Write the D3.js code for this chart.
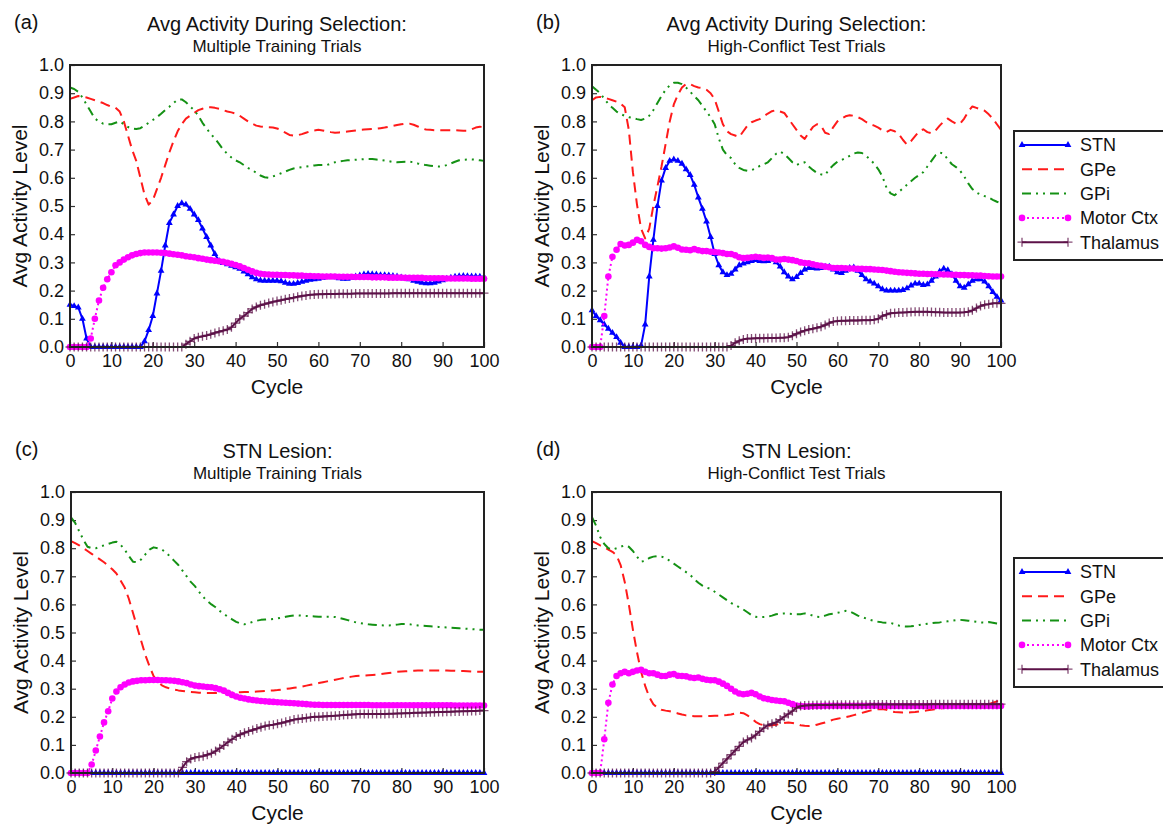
<!DOCTYPE html>
<html>
<head>
<meta charset="utf-8">
<script src="https://cdn.jsdelivr.net/npm/d3@7"></script>
<style>
  html, body { margin: 0; padding: 0; background: #fff; }
  svg { display: block; font-family: "Liberation Sans", Arial, Helvetica, sans-serif; }
</style>
</head>
<body>
<div id="chart"></div>
<script>
// ── Data ───────────────────────────────────────────────────
const cycles = d3.range(0, 101);
const xTicks = [0, 10, 20, 30, 40, 50, 60, 70, 80, 90, 100];
const yTicks = [0, 0.1, 0.2, 0.3, 0.4, 0.5, 0.6, 0.7, 0.8, 0.9, 1.0];
const seriesNames = ['STN', 'GPe', 'GPi', 'Motor Ctx', 'Thalamus'];
const panelLabels = ['(a)', '(b)', '(c)', '(d)'];
const panelTitles = ['Avg Activity During Selection:', 'Avg Activity During Selection:', 'STN Lesion:', 'STN Lesion:'];
const panelSubtitles = ['Multiple Training Trials', 'High-Conflict Test Trials', 'Multiple Training Trials', 'High-Conflict Test Trials'];

// (a) intact, multiple training trials
const aSTN = [
  0.15, 0.145, 0.14, 0.10, 0.03, 0, 0, 0, 0, 0,
  0, 0, 0, 0, 0, 0, 0, 0, 0.02, 0.06,
  0.11, 0.19, 0.27, 0.36, 0.44, 0.47, 0.50, 0.51, 0.505, 0.49,
  0.47, 0.45, 0.42, 0.39, 0.36, 0.33, 0.305, 0.298, 0.293, 0.288,
  0.283, 0.277, 0.268, 0.258, 0.247, 0.24, 0.236, 0.235, 0.235, 0.235,
  0.235, 0.233, 0.228, 0.224, 0.224, 0.227, 0.231, 0.235, 0.238, 0.24,
  0.242, 0.245, 0.247, 0.248, 0.247, 0.244, 0.242, 0.242, 0.245, 0.25,
  0.254, 0.257, 0.259, 0.258, 0.257, 0.255, 0.255, 0.254, 0.252, 0.25,
  0.247, 0.244, 0.24, 0.235, 0.231, 0.228, 0.226, 0.226, 0.228, 0.232,
  0.237, 0.242, 0.246, 0.249, 0.251, 0.252, 0.251, 0.25, 0.25, 0.249,
  0.248];
const aGPe = [
  0.88, 0.885, 0.89, 0.888, 0.885, 0.88, 0.875, 0.87, 0.865, 0.858,
  0.852, 0.848, 0.835, 0.80, 0.75, 0.70, 0.66, 0.60, 0.54, 0.505,
  0.52, 0.56, 0.60, 0.645, 0.69, 0.73, 0.765, 0.79, 0.81, 0.82,
  0.83, 0.84, 0.845, 0.85, 0.85, 0.848, 0.845, 0.84, 0.835, 0.832,
  0.828, 0.82, 0.81, 0.80, 0.792, 0.785, 0.782, 0.78, 0.779, 0.778,
  0.775, 0.77, 0.76, 0.752, 0.75, 0.751, 0.755, 0.76, 0.765, 0.768,
  0.77, 0.768, 0.765, 0.762, 0.76, 0.761, 0.762, 0.764, 0.766, 0.768,
  0.77, 0.771, 0.772, 0.773, 0.774, 0.776, 0.778, 0.781, 0.784, 0.787,
  0.79, 0.792, 0.792, 0.788, 0.782, 0.775, 0.771, 0.77, 0.769, 0.769,
  0.769, 0.769, 0.769, 0.769, 0.768, 0.767, 0.767, 0.772, 0.778, 0.781,
  0.78];
const aGPi = [
  0.92, 0.915, 0.905, 0.885, 0.86, 0.835, 0.81, 0.80, 0.792, 0.79,
  0.79, 0.795, 0.80, 0.79, 0.78, 0.775, 0.773, 0.776, 0.785, 0.795,
  0.805, 0.815, 0.827, 0.84, 0.852, 0.865, 0.877, 0.878, 0.868, 0.853,
  0.84, 0.82, 0.795, 0.775, 0.755, 0.74, 0.72, 0.70, 0.685, 0.672,
  0.662, 0.655, 0.645, 0.635, 0.627, 0.618, 0.608, 0.602, 0.60, 0.605,
  0.61, 0.616, 0.622, 0.628, 0.633, 0.636, 0.638, 0.64, 0.642, 0.644,
  0.645, 0.645, 0.645, 0.65, 0.655, 0.658, 0.66, 0.662, 0.663, 0.664,
  0.665, 0.666, 0.667, 0.667, 0.665, 0.663, 0.661, 0.659, 0.656, 0.655,
  0.656, 0.657, 0.657, 0.655, 0.651, 0.648, 0.645, 0.643, 0.641, 0.64,
  0.641, 0.645, 0.651, 0.657, 0.662, 0.664, 0.665, 0.665, 0.664, 0.662,
  0.66];
const aMotor = [
  0, 0, 0, 0, 0, 0.03, 0.10, 0.165, 0.21, 0.24,
  0.265, 0.29, 0.30, 0.31, 0.318, 0.325, 0.33, 0.333, 0.335, 0.335,
  0.335, 0.335, 0.334, 0.333, 0.331, 0.329, 0.327, 0.325, 0.322, 0.32,
  0.318, 0.315, 0.313, 0.31, 0.308, 0.306, 0.304, 0.302, 0.299, 0.295,
  0.291, 0.286, 0.28, 0.274, 0.268, 0.263, 0.26, 0.258, 0.257, 0.256,
  0.256, 0.255, 0.255, 0.254, 0.254, 0.253, 0.253, 0.252, 0.252, 0.251,
  0.251, 0.25, 0.25, 0.25, 0.25, 0.249, 0.249, 0.249, 0.249, 0.248,
  0.248, 0.248, 0.248, 0.247, 0.247, 0.247, 0.247, 0.246, 0.246, 0.246,
  0.246, 0.245, 0.245, 0.245, 0.245, 0.245, 0.244, 0.244, 0.244, 0.244,
  0.244, 0.243, 0.243, 0.243, 0.243, 0.243, 0.243, 0.242, 0.242, 0.242,
  0.242];
const aThal = [
  0, 0, 0, 0, 0, 0, 0, 0, 0, 0,
  0, 0, 0, 0, 0, 0, 0, 0, 0, 0,
  0, 0, 0, 0, 0, 0, 0, 0, 0.01, 0.02,
  0.03, 0.035, 0.038, 0.041, 0.045, 0.05, 0.054, 0.058, 0.062, 0.07,
  0.085, 0.10, 0.11, 0.122, 0.135, 0.142, 0.148, 0.152, 0.156, 0.16,
  0.163, 0.166, 0.169, 0.172, 0.175, 0.178, 0.181, 0.183, 0.185, 0.186,
  0.187, 0.187, 0.188, 0.188, 0.188, 0.189, 0.189, 0.189, 0.189, 0.19,
  0.19, 0.19, 0.19, 0.19, 0.19, 0.19, 0.19, 0.19, 0.191, 0.191,
  0.191, 0.191, 0.191, 0.191, 0.191, 0.191, 0.191, 0.191, 0.191, 0.191,
  0.191, 0.191, 0.191, 0.191, 0.191, 0.191, 0.191, 0.191, 0.191, 0.191,
  0.191];

// (b) intact, high-conflict test trials
const bSTN = [
  0.13, 0.11, 0.095, 0.08, 0.065, 0.05, 0.035, 0.015, 0, 0,
  0, 0, 0.005, 0.08, 0.25, 0.38, 0.50, 0.59, 0.635, 0.66,
  0.665, 0.66, 0.65, 0.63, 0.61, 0.575, 0.53, 0.49, 0.445, 0.39,
  0.33, 0.29, 0.265, 0.255, 0.26, 0.275, 0.29, 0.296, 0.30, 0.305,
  0.308, 0.305, 0.304, 0.305, 0.31, 0.30, 0.285, 0.265, 0.25, 0.24,
  0.248, 0.262, 0.275, 0.28, 0.28, 0.278, 0.28, 0.285, 0.285, 0.275,
  0.265, 0.262, 0.27, 0.28, 0.282, 0.27, 0.255, 0.24, 0.232, 0.225,
  0.215, 0.205, 0.20, 0.20, 0.20, 0.20, 0.202, 0.208, 0.218, 0.225,
  0.225, 0.22, 0.222, 0.235, 0.25, 0.268, 0.278, 0.272, 0.258, 0.235,
  0.215, 0.21, 0.222, 0.235, 0.24, 0.24, 0.232, 0.215, 0.195, 0.178,
  0.165];
const bGPe = [
  0.875, 0.885, 0.887, 0.884, 0.88, 0.875, 0.87, 0.863, 0.85, 0.77,
  0.62, 0.505, 0.42, 0.385, 0.42, 0.50, 0.57, 0.64, 0.72, 0.80,
  0.86, 0.895, 0.92, 0.933, 0.932, 0.925, 0.92, 0.918, 0.912, 0.90,
  0.878, 0.835, 0.79, 0.765, 0.755, 0.75, 0.745, 0.765, 0.785, 0.797,
  0.803, 0.808, 0.818, 0.828, 0.836, 0.84, 0.835, 0.83, 0.81, 0.79,
  0.77, 0.75, 0.738, 0.76, 0.78, 0.79, 0.785, 0.76, 0.755, 0.78,
  0.80, 0.81, 0.818, 0.822, 0.82, 0.815, 0.808, 0.798, 0.79, 0.785,
  0.778, 0.768, 0.762, 0.77, 0.765, 0.755, 0.735, 0.718, 0.73, 0.748,
  0.765, 0.772, 0.762, 0.758, 0.768, 0.785, 0.80, 0.81, 0.80, 0.792,
  0.792, 0.81, 0.835, 0.853, 0.848, 0.842, 0.838, 0.825, 0.81, 0.79,
  0.77];
const bGPi = [
  0.925, 0.912, 0.90, 0.88, 0.862, 0.848, 0.835, 0.826, 0.82, 0.815,
  0.812, 0.808, 0.805, 0.81, 0.82, 0.84, 0.865, 0.89, 0.912, 0.928,
  0.937, 0.937, 0.932, 0.92, 0.905, 0.89, 0.875, 0.855, 0.835, 0.815,
  0.79, 0.74, 0.70, 0.68, 0.67, 0.648, 0.635, 0.628, 0.625, 0.627,
  0.633, 0.642, 0.648, 0.655, 0.67, 0.685, 0.693, 0.685, 0.67, 0.655,
  0.645, 0.652, 0.655, 0.64, 0.628, 0.617, 0.612, 0.61, 0.63, 0.645,
  0.657, 0.663, 0.67, 0.678, 0.686, 0.69, 0.688, 0.678, 0.665, 0.65,
  0.63, 0.605, 0.565, 0.545, 0.538, 0.55, 0.562, 0.575, 0.588, 0.60,
  0.61, 0.62, 0.64, 0.66, 0.68, 0.69, 0.685, 0.665, 0.648, 0.638,
  0.625, 0.605, 0.58, 0.56, 0.548, 0.54, 0.535, 0.53, 0.522, 0.515,
  0.51];
const bMotor = [
  0, 0, 0, 0.11, 0.25, 0.32, 0.345, 0.365, 0.36, 0.362,
  0.37, 0.38, 0.375, 0.362, 0.355, 0.35, 0.35, 0.349, 0.35, 0.353,
  0.357, 0.352, 0.346, 0.345, 0.343, 0.347, 0.343, 0.34, 0.34, 0.338,
  0.337, 0.335, 0.333, 0.33, 0.33, 0.325, 0.318, 0.315, 0.316, 0.318,
  0.32, 0.318, 0.316, 0.317, 0.315, 0.31, 0.31, 0.312, 0.31, 0.308,
  0.305, 0.30, 0.298, 0.297, 0.293, 0.29, 0.288, 0.285, 0.283, 0.28,
  0.28, 0.28, 0.279, 0.278, 0.278, 0.277, 0.277, 0.276, 0.276, 0.275,
  0.274, 0.273, 0.271, 0.269, 0.267, 0.265, 0.264, 0.263, 0.262, 0.261,
  0.26, 0.26, 0.259, 0.259, 0.258, 0.258, 0.257, 0.257, 0.256, 0.256,
  0.255, 0.255, 0.254, 0.254, 0.253, 0.253, 0.252, 0.251, 0.25, 0.25,
  0.25];
const bThal = [
  0, 0, 0, 0, 0, 0, 0, 0, 0, 0,
  0, 0, 0, 0, 0, 0, 0, 0, 0, 0,
  0, 0, 0, 0, 0, 0, 0, 0, 0, 0,
  0, 0, 0, 0, 0.005, 0.015, 0.022, 0.027, 0.03, 0.03,
  0.031, 0.031, 0.031, 0.032, 0.032, 0.032, 0.033, 0.033, 0.035, 0.04,
  0.047, 0.053, 0.058, 0.062, 0.065, 0.068, 0.072, 0.078, 0.085, 0.09,
  0.092, 0.093, 0.093, 0.094, 0.094, 0.094, 0.095, 0.095, 0.095, 0.097,
  0.10, 0.11, 0.115, 0.12, 0.121, 0.122, 0.122, 0.123, 0.124, 0.125,
  0.125, 0.125, 0.125, 0.124, 0.123, 0.123, 0.122, 0.122, 0.122, 0.122,
  0.122, 0.123, 0.125, 0.13, 0.138, 0.145, 0.15, 0.152, 0.155, 0.155,
  0.155];

// (c) STN lesion, multiple training trials
const cSTN = [
  0, 0, 0, 0, 0, 0, 0, 0, 0, 0,
  0, 0, 0, 0, 0, 0, 0, 0, 0, 0,
  0, 0, 0, 0, 0, 0, 0, 0, 0, 0,
  0, 0, 0, 0, 0, 0, 0, 0, 0, 0,
  0, 0, 0, 0, 0, 0, 0, 0, 0, 0,
  0, 0, 0, 0, 0, 0, 0, 0, 0, 0,
  0, 0, 0, 0, 0, 0, 0, 0, 0, 0,
  0, 0, 0, 0, 0, 0, 0, 0, 0, 0,
  0, 0, 0, 0, 0, 0, 0, 0, 0, 0,
  0, 0, 0, 0, 0, 0, 0, 0, 0, 0,
  0];
const cGPe = [
  0.825, 0.818, 0.81, 0.80, 0.79, 0.78, 0.77, 0.76, 0.75, 0.738,
  0.725, 0.71, 0.685, 0.66, 0.62, 0.57, 0.52, 0.47, 0.42, 0.38,
  0.345, 0.325, 0.312, 0.305, 0.30, 0.297, 0.294, 0.292, 0.29, 0.288,
  0.287, 0.286, 0.285, 0.285, 0.285, 0.285, 0.285, 0.285, 0.286, 0.286,
  0.287, 0.287, 0.288, 0.288, 0.289, 0.29, 0.291, 0.292, 0.293, 0.294,
  0.295, 0.297, 0.299, 0.301, 0.303, 0.305, 0.308, 0.311, 0.314, 0.317,
  0.32, 0.323, 0.326, 0.329, 0.332, 0.335, 0.338, 0.341, 0.343, 0.345,
  0.346, 0.347, 0.348, 0.349, 0.35, 0.352, 0.354, 0.356, 0.358, 0.36,
  0.361, 0.362, 0.363, 0.364, 0.365, 0.365, 0.365, 0.365, 0.365, 0.365,
  0.365, 0.365, 0.364, 0.364, 0.363, 0.363, 0.362, 0.361, 0.36, 0.36,
  0.36];
const cGPi = [
  0.91, 0.89, 0.86, 0.83, 0.805, 0.80, 0.80, 0.805, 0.81, 0.815,
  0.82, 0.823, 0.812, 0.795, 0.772, 0.752, 0.75, 0.76, 0.778, 0.795,
  0.803, 0.80, 0.795, 0.785, 0.77, 0.755, 0.74, 0.72, 0.70, 0.68,
  0.665, 0.645, 0.627, 0.612, 0.60, 0.59, 0.577, 0.566, 0.556, 0.547,
  0.538, 0.532, 0.529, 0.533, 0.538, 0.542, 0.545, 0.546, 0.547, 0.548,
  0.55, 0.553, 0.556, 0.559, 0.561, 0.561, 0.56, 0.559, 0.558, 0.557,
  0.556, 0.556, 0.556, 0.556, 0.555, 0.552, 0.548, 0.544, 0.54, 0.536,
  0.533, 0.531, 0.529, 0.528, 0.527, 0.526, 0.525, 0.525, 0.526, 0.528,
  0.53, 0.53, 0.529, 0.527, 0.525, 0.524, 0.523, 0.522, 0.521, 0.52,
  0.519, 0.518, 0.517, 0.516, 0.515, 0.514, 0.513, 0.512, 0.511, 0.51,
  0.51];
const cMotor = [
  0, 0, 0, 0, 0, 0.03, 0.08, 0.13, 0.18, 0.22,
  0.265, 0.29, 0.305, 0.315, 0.322, 0.326, 0.328, 0.33, 0.33, 0.331,
  0.331, 0.331, 0.33, 0.33, 0.329, 0.328, 0.326, 0.323, 0.32, 0.315,
  0.311, 0.309, 0.308, 0.306, 0.305, 0.302, 0.298, 0.293, 0.285, 0.278,
  0.272, 0.268, 0.265, 0.262, 0.26, 0.258, 0.256, 0.255, 0.254, 0.253,
  0.252, 0.251, 0.25, 0.249, 0.248, 0.247, 0.246, 0.245, 0.244, 0.243,
  0.243, 0.242, 0.242, 0.242, 0.242, 0.242, 0.242, 0.242, 0.242, 0.242,
  0.242, 0.242, 0.242, 0.241, 0.241, 0.241, 0.241, 0.241, 0.241, 0.241,
  0.241, 0.241, 0.241, 0.241, 0.241, 0.241, 0.241, 0.241, 0.241, 0.241,
  0.241, 0.241, 0.241, 0.24, 0.24, 0.24, 0.24, 0.24, 0.24, 0.24,
  0.24];
const cThal = [
  0, 0, 0, 0, 0, 0, 0, 0, 0, 0,
  0, 0, 0, 0, 0, 0, 0, 0, 0, 0,
  0, 0, 0, 0, 0, 0, 0, 0.02, 0.04, 0.05,
  0.055, 0.058, 0.06, 0.065, 0.07, 0.078, 0.088, 0.098, 0.11, 0.12,
  0.13, 0.137, 0.143, 0.148, 0.153, 0.158, 0.163, 0.167, 0.17, 0.172,
  0.175, 0.178, 0.182, 0.186, 0.19, 0.192, 0.194, 0.196, 0.198, 0.20,
  0.20, 0.201, 0.202, 0.203, 0.204, 0.205, 0.206, 0.207, 0.208, 0.209,
  0.21, 0.21, 0.21, 0.21, 0.21, 0.21, 0.21, 0.211, 0.211, 0.212,
  0.212, 0.213, 0.213, 0.214, 0.214, 0.215, 0.215, 0.216, 0.216, 0.217,
  0.217, 0.218, 0.218, 0.219, 0.219, 0.22, 0.22, 0.221, 0.221, 0.222,
  0.222];

// (d) STN lesion, high-conflict test trials
const dSTN = [
  0, 0, 0, 0, 0, 0, 0, 0, 0, 0,
  0, 0, 0, 0, 0, 0, 0, 0, 0, 0,
  0, 0, 0, 0, 0, 0, 0, 0, 0, 0,
  0, 0, 0, 0, 0, 0, 0, 0, 0, 0,
  0, 0, 0, 0, 0, 0, 0, 0, 0, 0,
  0, 0, 0, 0, 0, 0, 0, 0, 0, 0,
  0, 0, 0, 0, 0, 0, 0, 0, 0, 0,
  0, 0, 0, 0, 0, 0, 0, 0, 0, 0,
  0, 0, 0, 0, 0, 0, 0, 0, 0, 0,
  0, 0, 0, 0, 0, 0, 0, 0, 0, 0,
  0];
const dGPe = [
  0.825, 0.818, 0.81, 0.803, 0.795, 0.787, 0.775, 0.74, 0.68, 0.60,
  0.51, 0.43, 0.36, 0.31, 0.27, 0.245, 0.232, 0.225, 0.222, 0.22,
  0.216, 0.212, 0.208, 0.205, 0.203, 0.202, 0.202, 0.202, 0.203, 0.203,
  0.204, 0.204, 0.205, 0.206, 0.208, 0.212, 0.215, 0.213, 0.205, 0.195,
  0.182, 0.174, 0.17, 0.168, 0.17, 0.172, 0.175, 0.178, 0.18, 0.178,
  0.175, 0.17, 0.168, 0.167, 0.168, 0.172, 0.176, 0.18, 0.185, 0.19,
  0.193, 0.196, 0.199, 0.202, 0.206, 0.21, 0.214, 0.218, 0.222, 0.225,
  0.227, 0.228, 0.225, 0.22, 0.217, 0.216, 0.215, 0.215, 0.216, 0.217,
  0.219, 0.221, 0.223, 0.225, 0.227, 0.229, 0.231, 0.233, 0.234, 0.235,
  0.236, 0.237, 0.238, 0.239, 0.24, 0.241, 0.242, 0.245, 0.25, 0.255,
  0.255];
const dGPi = [
  0.91, 0.88, 0.84, 0.815, 0.80, 0.795, 0.80, 0.805, 0.81, 0.805,
  0.79, 0.77, 0.752, 0.755, 0.765, 0.77, 0.772, 0.77, 0.765, 0.755,
  0.745, 0.735, 0.725, 0.715, 0.705, 0.69, 0.677, 0.667, 0.66, 0.655,
  0.645, 0.635, 0.625, 0.615, 0.605, 0.598, 0.59, 0.582, 0.572, 0.562,
  0.556, 0.555, 0.555, 0.556, 0.56, 0.565, 0.567, 0.568, 0.567, 0.566,
  0.565, 0.565, 0.568, 0.565, 0.56, 0.556, 0.555, 0.56, 0.565, 0.567,
  0.57, 0.573, 0.577, 0.575, 0.568, 0.56, 0.555, 0.55, 0.545, 0.541,
  0.538, 0.536, 0.535, 0.534, 0.53, 0.525, 0.522, 0.521, 0.522, 0.524,
  0.527, 0.529, 0.531, 0.533, 0.535, 0.536, 0.538, 0.54, 0.542, 0.544,
  0.545, 0.544, 0.542, 0.54, 0.538, 0.536, 0.535, 0.537, 0.535, 0.532,
  0.53];
const dMotor = [
  0, 0, 0, 0.12, 0.25, 0.315, 0.345, 0.355, 0.36, 0.355,
  0.36, 0.365, 0.367, 0.36, 0.355, 0.355, 0.35, 0.345, 0.345, 0.35,
  0.352, 0.346, 0.345, 0.344, 0.34, 0.338, 0.34, 0.335, 0.332, 0.33,
  0.33, 0.325, 0.318, 0.31, 0.30, 0.29, 0.283, 0.28, 0.282, 0.285,
  0.28, 0.272, 0.266, 0.263, 0.26, 0.258, 0.256, 0.255, 0.25, 0.245,
  0.24, 0.238, 0.237, 0.237, 0.238, 0.238, 0.238, 0.239, 0.239, 0.239,
  0.239, 0.239, 0.239, 0.239, 0.239, 0.239, 0.239, 0.239, 0.239, 0.239,
  0.239, 0.239, 0.239, 0.238, 0.238, 0.238, 0.238, 0.238, 0.238, 0.238,
  0.238, 0.238, 0.238, 0.238, 0.238, 0.238, 0.238, 0.238, 0.238, 0.238,
  0.238, 0.238, 0.238, 0.238, 0.238, 0.238, 0.238, 0.238, 0.238, 0.238,
  0.238];
const dThal = [
  0, 0, 0, 0, 0, 0, 0, 0, 0, 0,
  0, 0, 0, 0, 0, 0, 0, 0, 0, 0,
  0, 0, 0, 0, 0, 0, 0, 0, 0, 0,
  0.005, 0.02, 0.035, 0.05, 0.065, 0.08, 0.095, 0.11, 0.118, 0.125,
  0.135, 0.148, 0.16, 0.17, 0.175, 0.18, 0.19, 0.20, 0.21, 0.22,
  0.232, 0.238, 0.24, 0.241, 0.241, 0.242, 0.242, 0.242, 0.242, 0.243,
  0.243, 0.243, 0.243, 0.243, 0.243, 0.243, 0.243, 0.243, 0.244, 0.244,
  0.244, 0.244, 0.244, 0.244, 0.244, 0.244, 0.244, 0.244, 0.244, 0.244,
  0.244, 0.244, 0.244, 0.245, 0.245, 0.245, 0.245, 0.245, 0.245, 0.245,
  0.245, 0.245, 0.245, 0.245, 0.245, 0.245, 0.245, 0.245, 0.245, 0.245,
  0.245];

// ── Styles ─────────────────────────────────────────────────
const seriesStyles = [
  { color: '#0000ff', width: 2, dash: null, marker: 'triangle' },
  { color: '#ff1a1a', width: 2, dash: '10,6', marker: null },
  { color: '#149114', width: 2, dash: '9,5,2,5,2,5', marker: null },
  { color: '#ff00ff', width: 2, dash: '2,3', marker: 'circle' },
  { color: '#5c1248', width: 2, dash: null, marker: 'plus' },
];

const W = 1163, H = 826;
const FONT = '"Liberation Sans", Arial, Helvetica, sans-serif';

const panels = [
  { left: 70, top: 65, right: 484, bottom: 347, series: [aSTN, aGPe, aGPi, aMotor, aThal], legend: false },
  { left: 592, top: 65, right: 1001, bottom: 347, series: [bSTN, bGPe, bGPi, bMotor, bThal], legend: true },
  { left: 71, top: 492, right: 484, bottom: 773, series: [cSTN, cGPe, cGPi, cMotor, cThal], legend: false },
  { left: 592, top: 492, right: 1001, bottom: 773, series: [dSTN, dGPe, dGPi, dMotor, dThal], legend: true },
];

const svg = d3.select('#chart').append('svg')
  .attr('width', W).attr('height', H)
  .attr('font-family', FONT);
svg.append('rect').attr('width', W).attr('height', H).attr('fill', '#fff');

function drawMarker(g, type, color) {
  if (type === 'triangle') {
    g.append('path').attr('d', d3.symbol().type(d3.symbolTriangle).size(20)())
      .attr('fill', color);
  } else if (type === 'circle') {
    g.append('circle').attr('r', 3.3).attr('fill', color);
  } else if (type === 'plus') {
    g.append('path').attr('d', 'M-4.5,0H4.5M0,-4.5V4.5')
      .attr('stroke', color).attr('stroke-width', 1.3).attr('fill', 'none')
      .attr('opacity', 0.75);
  }
}

panels.forEach((p, pi) => {
  const x = d3.scaleLinear().domain([0, 100]).range([p.left, p.right]);
  const y = d3.scaleLinear().domain([0, 1]).range([p.bottom, p.top]);
  const cx = (p.left + p.right) / 2;
  const g = svg.append('g');

  // panel letter + titles
  g.append('text').attr('x', p.left - 56).attr('y', p.top - 36)
    .attr('font-size', 20).attr('fill', '#111').text(panelLabels[pi]);
  g.append('text').attr('x', cx).attr('y', p.top - 34).attr('text-anchor', 'middle')
    .attr('font-size', 20).attr('fill', '#111').text(panelTitles[pi]);
  g.append('text').attr('x', cx).attr('y', p.top - 13).attr('text-anchor', 'middle')
    .attr('font-size', 17).attr('fill', '#111').text(panelSubtitles[pi]);

  // axes (ticks point inward)
  const yAxis = d3.axisLeft(y).tickValues(yTicks).tickFormat(d3.format('.1f'))
    .tickSizeInner(-5).tickSizeOuter(0).tickPadding(6);
  const xAxis = d3.axisBottom(x).tickValues(xTicks).tickFormat(d3.format('d'))
    .tickSizeInner(-5).tickSizeOuter(0).tickPadding(7);
  const ya = g.append('g').attr('transform', `translate(${p.left},0)`).call(yAxis);
  const xa = g.append('g').attr('transform', `translate(0,${p.bottom})`).call(xAxis);
  [ya, xa].forEach(a => {
    a.select('.domain').remove();
    a.selectAll('text').attr('font-size', 18).attr('font-family', FONT).attr('fill', '#111');
    a.selectAll('line').attr('stroke', '#333').attr('stroke-width', 1.2);
  });

  // axis titles
  g.append('text').attr('x', cx).attr('y', p.bottom + 47).attr('text-anchor', 'middle')
    .attr('font-size', 21).attr('fill', '#111').text('Cycle');
  g.append('text')
    .attr('transform', `translate(${p.left - 43},${(p.top + p.bottom) / 2}) rotate(-90)`)
    .attr('text-anchor', 'middle').attr('font-size', 21).attr('fill', '#111')
    .text('Avg Activity Level');

  // series
  const line = d3.line().x((d, i) => x(cycles[i])).y(d => y(d));
  p.series.forEach((vals, si) => {
    const st = seriesStyles[si];
    const sg = g.append('g');
    sg.append('path').attr('d', line(vals))
      .attr('fill', 'none').attr('stroke', st.color).attr('stroke-width', st.width)
      .attr('stroke-dasharray', st.dash).attr('stroke-linejoin', 'round');
    if (st.marker) {
      vals.forEach((v, i) => {
        const mg = sg.append('g').attr('transform', `translate(${x(cycles[i])},${y(v)})`);
        drawMarker(mg, st.marker, st.color);
      });
    }
  });

  // frame
  g.append('rect').attr('x', p.left).attr('y', p.top)
    .attr('width', p.right - p.left).attr('height', p.bottom - p.top)
    .attr('fill', 'none').attr('stroke', '#222').attr('stroke-width', 2);

  // legend
  if (p.legend) {
    const lx = 1014, ly = p.top + 66;
    const lg = svg.append('g');
    lg.append('rect').attr('x', lx).attr('y', ly).attr('width', 200).attr('height', 129)
      .attr('fill', '#fff').attr('stroke', '#222').attr('stroke-width', 2);
    seriesNames.forEach((name, si) => {
      const st = seriesStyles[si];
      const yy = ly + 14 + si * 24.3;
      lg.append('line').attr('x1', lx + 8).attr('x2', lx + 54).attr('y1', yy).attr('y2', yy)
        .attr('stroke', st.color).attr('stroke-width', st.width)
        .attr('stroke-dasharray', st.dash);
      if (st.marker) {
        [lx + 8, lx + 54].forEach(mx => {
          drawMarker(lg.append('g').attr('transform', `translate(${mx},${yy})`), st.marker, st.color);
        });
      }
      lg.append('text').attr('x', lx + 66).attr('y', yy).attr('dy', '0.36em')
        .attr('font-size', 18).attr('fill', '#111').text(name);
    });
  }
});
</script>
</body>
</html>
